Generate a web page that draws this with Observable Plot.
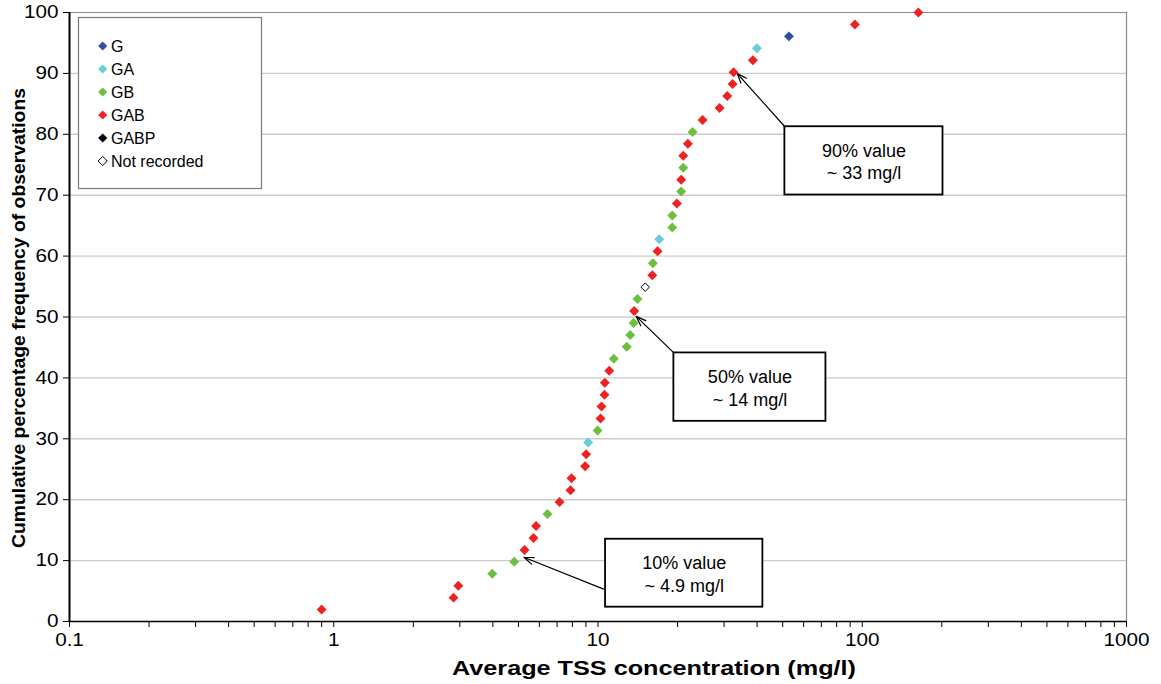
<!DOCTYPE html>
<html>
<head>
<meta charset="utf-8">
<script src="https://cdn.jsdelivr.net/npm/d3@7"></script>
<script src="https://cdn.jsdelivr.net/npm/@observablehq/plot@0.6"></script>
<style>
  html, body { margin: 0; padding: 0; background: white; }
  #chart { position: relative; width: 1161px; height: 684px; }
</style>
</head>
<body>
<div id="chart"></div>
<script>
// ---- data ----
const categories = ["G", "GA", "GB", "GAB", "GABP", "Not recorded"];
const categoryColors = ["#2F4F9F", "#6CCBD9", "#6CBF40", "#EE2222", "#000000", "#FFFFFF"];

const tss = [0.90, 2.84, 2.96, 3.98, 4.82, 5.27, 5.70, 5.83, 6.44, 7.15,
             7.87, 7.94, 8.94, 9.02, 9.18, 9.96, 10.22, 10.31, 10.58, 10.61,
             11.03, 11.48, 12.85, 13.24, 13.63, 13.71, 14.11, 15.09, 16.05, 16.13,
             16.80, 17.05, 19.10, 19.10, 19.88, 20.65, 20.65, 21.02, 21.02, 21.88,
             22.80, 24.87, 28.84, 30.84, 32.31, 32.58, 38.56, 39.93, 52.78, 93.8, 163.1];
const cumPct = [1.96, 3.92, 5.88, 7.84, 9.80, 11.76, 13.73, 15.69, 17.65, 19.61,
                21.57, 23.53, 25.49, 27.45, 29.41, 31.37, 33.33, 35.29, 37.25, 39.22,
                41.18, 43.14, 45.10, 47.06, 49.02, 50.98, 52.94, 54.90, 56.86, 58.82,
                60.78, 62.75, 64.71, 66.67, 68.63, 70.59, 72.55, 74.51, 76.47, 78.43,
                80.39, 82.35, 84.31, 86.27, 88.24, 90.20, 92.16, 94.12, 96.08, 98.04, 100];
const group = ["GAB","GAB","GAB","GB","GB","GAB","GAB","GAB","GB","GAB",
               "GAB","GAB","GAB","GAB","GA","GB","GAB","GAB","GAB","GAB",
               "GAB","GB","GB","GB","GB","GAB","GB","Not recorded","GAB","GB",
               "GAB","GA","GB","GB","GAB","GB","GAB","GB","GAB","GAB",
               "GB","GAB","GAB","GAB","GAB","GAB","GAB","GA","G","GAB","GAB"];

const yTicks = [0, 10, 20, 30, 40, 50, 60, 70, 80, 90, 100];
const xTickLabels = ["0.1", "1", "10", "100", "1000"];
const xLabel = "Average TSS concentration (mg/l)";
const yLabel = "Cumulative percentage frequency of observations";

// annotations (data units)
const annotLabel = ["10% value\n~ 4.9 mg/l", "50% value\n~ 14 mg/l", "90% value\n~ 33 mg/l"];
const boxX1 = [10.68, 19.37, 50.96];
const boxX2 = [42.07, 72.87, 202.1];
const boxY1 = [2.35, 32.87, 70.03];
const boxY2 = [13.51, 44.1, 81.24];
const textX = [21.2, 37.57, 101.5];
const textY = [7.93, 38.49, 75.66];
const arrowFromX = [10.68, 19.37, 50.96];
const arrowFromY = [5.2, 44.1, 81.24];
const arrowToX = [5.24, 13.95, 33.6];
const arrowToY = [10.55, 50.1, 90.0];

// ---- build tables ----
const points = tss.map((v, i) => ({tss: v, pct: cumPct[i], group: group[i]}));
const filled = points.filter(d => d.group !== "Not recorded");
const hollow = points.filter(d => d.group === "Not recorded");
const annots = annotLabel.map((t, i) => ({
  text: t, x1: boxX1[i], x2: boxX2[i], y1: boxY1[i], y2: boxY2[i],
  tx: textX[i], ty: textY[i],
  ax1: arrowFromX[i], ay1: arrowFromY[i], ax2: arrowToX[i], ay2: arrowToY[i]
}));
const gridY = yTicks.filter(v => v > 0 && v < 100);

const font = "Liberation Sans, Arial, Helvetica, sans-serif";

const chart = Plot.plot({
  width: 1161,
  height: 684,
  marginLeft: 69,
  marginRight: 35,
  marginTop: 12,
  marginBottom: 63,
  style: {fontFamily: font, fontSize: "18px", color: "black", background: "white"},
  x: {type: "log", domain: [0.1, 1000], label: null},
  y: {domain: [0, 100], label: null},
  color: {domain: categories, range: categoryColors},
  marks: [
    Plot.ruleY(gridY, {stroke: "#cccccc", strokeWidth: 1.4}),
    Plot.ruleY([100], {stroke: "#8a8a8a", strokeWidth: 1.2}),
    Plot.ruleX([1000], {stroke: "#8a8a8a", strokeWidth: 1.2}),
    Plot.axisY({ticks: yTicks, tickSize: 6, tickPadding: 5, label: null, fontSize: 18, tickFormat: d => String(d)}),
    Plot.axisX({ticks: 12, tickSize: 6, tickPadding: 6, label: null, fontSize: 18,
                tickFormat: d => { const l = xTickLabels.find(s => +s === d); return l === undefined ? "" : l; }}),
    Plot.ruleX([0.1], {stroke: "black", strokeWidth: 2}),
    Plot.ruleY([0], {stroke: "black", strokeWidth: 1.6}),
    Plot.arrow(annots, {x1: "ax1", y1: "ay1", x2: "ax2", y2: "ay2", stroke: "black", strokeWidth: 1.2, headLength: 13, headAngle: 40}),
    Plot.rect(annots, {x1: "x1", x2: "x2", y1: "y1", y2: "y2", fill: "white", stroke: "black", strokeWidth: 1.8}),
    Plot.text(annots, {x: "tx", y: "ty", text: "text", fontSize: 18, lineHeight: 1.25, fill: "black"}),
    Plot.dot(filled, {x: "tss", y: "pct", fill: "group", symbol: "diamond2", r: 4.5, stroke: "none"}),
    Plot.dot(hollow, {x: "tss", y: "pct", fill: "white", stroke: "black", strokeWidth: 1, symbol: "diamond2", r: 3.8})
  ]
});

document.getElementById("chart").appendChild(chart);

// ---- widen tick labels slightly (reference is horizontally stretched) ----
const svg = d3.select(chart);
svg.selectAll('g[aria-label="x-axis tick label"] text, g[aria-label="y-axis tick label"] text')
  .each(function () {
    const t = d3.select(this);
    const tr = t.attr("transform") || "";
    t.attr("transform", tr + " scale(1.15,1)");
  });

// ---- axis titles and legend drawn into the same SVG ----
svg.append("text")
  .attr("x", 654).attr("y", 675)
  .attr("text-anchor", "middle")
  .attr("font-family", font).attr("font-weight", "bold").attr("font-size", 21)
  .attr("textLength", 404).attr("lengthAdjust", "spacingAndGlyphs")
  .attr("fill", "black")
  .text(xLabel);

svg.append("text")
  .attr("transform", "translate(25,318) rotate(-90)")
  .attr("text-anchor", "middle")
  .attr("font-family", font).attr("font-weight", "bold").attr("font-size", 18)
  .attr("textLength", 460).attr("lengthAdjust", "spacingAndGlyphs")
  .attr("fill", "black")
  .text(yLabel);

const lg = svg.append("g");
lg.append("rect")
  .attr("x", 78.5).attr("y", 17.5).attr("width", 183).attr("height", 171)
  .attr("fill", "white").attr("stroke", "#7a7a7a").attr("stroke-width", 1.2);
const legendY0 = 46, legendStep = 23;
categories.forEach((c, i) => {
  const cy = legendY0 + i * legendStep;
  const s = 4.6;
  lg.append("path")
    .attr("d", `M${102.7},${cy - s}L${102.7 + s},${cy}L${102.7},${cy + s}L${102.7 - s},${cy}Z`)
    .attr("fill", categoryColors[i])
    .attr("stroke", c === "Not recorded" ? "black" : "none")
    .attr("stroke-width", 1);
  lg.append("text")
    .attr("x", 111).attr("y", cy).attr("dy", "0.36em")
    .attr("text-anchor", "start")
    .attr("font-family", font).attr("font-size", 16)
    .attr("fill", "black")
    .text(c);
});
</script>
</body>
</html>
